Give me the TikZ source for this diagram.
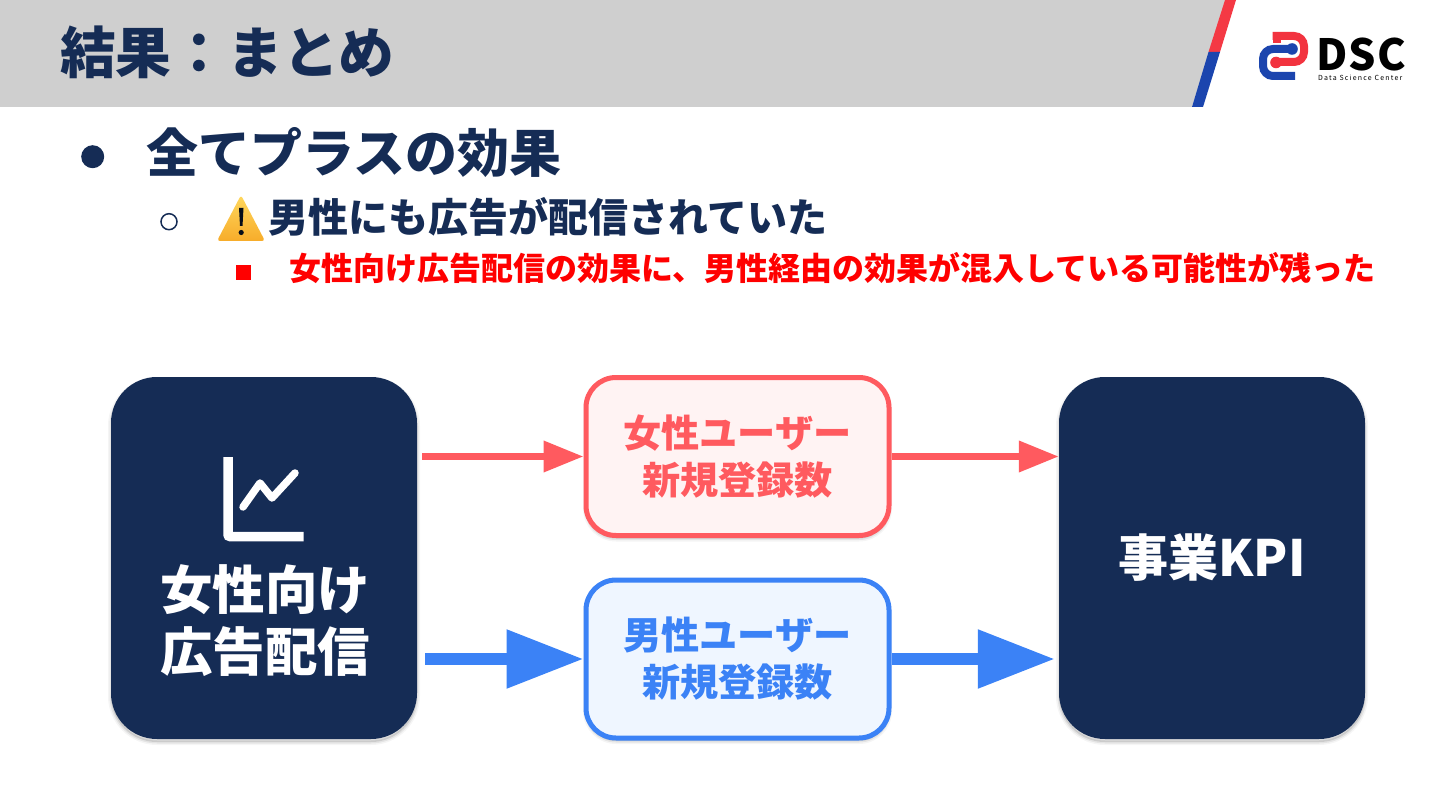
\documentclass[tikz,border=0pt]{standalone}
\usepackage{fontspec}
\setmainfont{Noto Sans CJK JP}
\usetikzlibrary{arrows.meta,shadows,calc}
\definecolor{navy}{HTML}{152C55}
\definecolor{hdr}{HTML}{CFCFCF}
\definecolor{rose}{HTML}{FF5A5F}
\definecolor{rosefill}{HTML}{FFF3F3}
\definecolor{azure}{HTML}{3B82F6}
\definecolor{azurefill}{HTML}{EFF6FF}
\definecolor{logored}{HTML}{F2333F}
\definecolor{logoblue}{HTML}{1B45AE}
\definecolor{warntop}{HTML}{FFD85E}
\definecolor{warnbot}{HTML}{F7AC2A}
\tikzset{
  softshadow/.style={general shadow={fill=black,draw=black,line width=6pt,opacity=.04,shadow yshift=-3pt},
                     general shadow={fill=black,draw=black,line width=3pt,opacity=.07,shadow yshift=-3pt}},
  darkbox/.style={softshadow,fill=navy,rounded corners=46pt,minimum width=306pt,minimum height=362pt,inner sep=0pt,text=white,font=\bfseries\fontsize{50}{62}\selectfont,align=center},
  metricbox/.style={softshadow,line width=5pt,rounded corners=30pt,minimum width=303pt,minimum height=158pt,inner sep=0pt,font=\bfseries\fontsize{38.2}{47}\selectfont,align=center},
  txt/.style={inner sep=0pt,anchor=base west,font=\bfseries},
  redarrow/.style={draw=rose,line width=7pt,-{Triangle[length=40pt,width=30pt]}},
  bluearrow/.style={draw=azure,line width=12pt,-{Triangle[length=77pt,width=56pt]}}
}
\begin{document}
\begin{tikzpicture}[x=1pt,y=-1pt]
\useasboundingbox (0,0) rectangle (1440,810);
% header
\fill[hdr] (0,0) -- (1226,0) -- (1192,107) -- (0,107) -- cycle;
\fill[logored!85!rose] (1225,0) -- (1236,0) -- (1220,52) -- (1208.5,52) -- cycle;
\fill[logoblue] (1208.5,52) -- (1220,52) -- (1203,107) -- (1192,107) -- cycle;
\node[txt,text=navy,font=\bfseries\fontsize{55.7}{60}\selectfont] (title) at (60,74) {結果：まとめ};
% logo
\fill[logored] (1272.7,31.7) rectangle (1280.7,43.3);
\draw[logored,line width=8pt,rounded corners=10pt] (1272.7,36) -- (1304,36) -- (1304,62) -- (1276,62);
\fill[logored] (1276,62.5) circle[radius=5.8pt];
\draw[logoblue,line width=8pt,rounded corners=10pt] (1295,76) -- (1263,76) -- (1263,49) -- (1292,49);
\fill[logoblue] (1292,49) circle[radius=5.8pt];
\node[inner sep=0pt,anchor=base west,text=black,font=\bfseries\fontsize{43}{43}\selectfont] (dsc) at (1316,71) {\addfontfeature{LetterSpace=3}DSC};
\node[inner sep=0pt,anchor=base west,text=black,font=\fontsize{7}{8}\selectfont] (dsc2) at (1318,81) {\addfontfeature{LetterSpace=17}Data Science Center};
% bullets
\node[circle,fill=navy,minimum size=23pt,inner sep=0pt] (b1) at (92.7,156.7) {};
\node[txt,text=navy,font=\bfseries\fontsize{52}{56}\selectfont] (t1) at (146,173) {全てプラスの効果};
\node[circle,draw=navy,line width=1.5pt,minimum size=16pt,inner sep=0pt] (b2) at (169,221.7) {};
\shade[top color=warntop,bottom color=warnbot,rounded corners=3pt] (241,195) -- (265,241) -- (217,241) -- cycle;
\fill[navy!30!black] (239,208) -- (243.5,208) -- (242.5,226) -- (240,226) -- cycle (241.2,232.5) circle[radius=2.6pt];
\node[txt,text=navy,font=\bfseries\fontsize{40}{44}\selectfont] (t2) at (268.5,233) {男性にも広告が配信されていた};
\node[fill=red,minimum size=15pt,inner sep=0pt] (b3) at (243.7,272.3) {};
\node[txt,text=red,font=\bfseries\fontsize{32}{36}\selectfont] (t3) at (289,280) {女性向け広告配信の効果に、男性経由の効果が混入している可能性が残った};
% boxes
\node[darkbox] (src) at (264,558) {};
\node[darkbox] (kpi) at (1212,558) {事業KPI};
\node[metricbox,draw=rose,fill=rosefill,text=rose] (fem) at (737.5,456.5) {女性ユーザー\\新規登録数};
\node[metricbox,draw=azure,fill=azurefill,text=azure] (mal) at (737.5,659) {男性ユーザー\\新規登録数};
% icon and source label
\draw[white,line width=9.5pt,rounded corners=2pt] (228,457) -- (228,536.5) -- (303.5,536.5);
\draw[white,line width=7.5pt,line join=round,line cap=round] (243,507) -- (260,483) -- (272,498) -- (295,473);
\node[inner sep=0pt,text=white,align=center,font=\bfseries\fontsize{52.5}{62}\selectfont] (srclabel) at (265,621) {女性向け\\広告配信};
% connectors
\draw[redarrow,shorten <=5pt] (src.east |- fem.west) -- (fem.west);
\draw[bluearrow,shorten <=8pt] (src.east |- mal.west) -- (mal.west);
\draw[redarrow] (fem.east) -- (kpi.west |- fem.east);
\draw[bluearrow,shorten >=4pt] (mal.east) -- (kpi.west |- mal.east);
\end{tikzpicture}
\end{document}
